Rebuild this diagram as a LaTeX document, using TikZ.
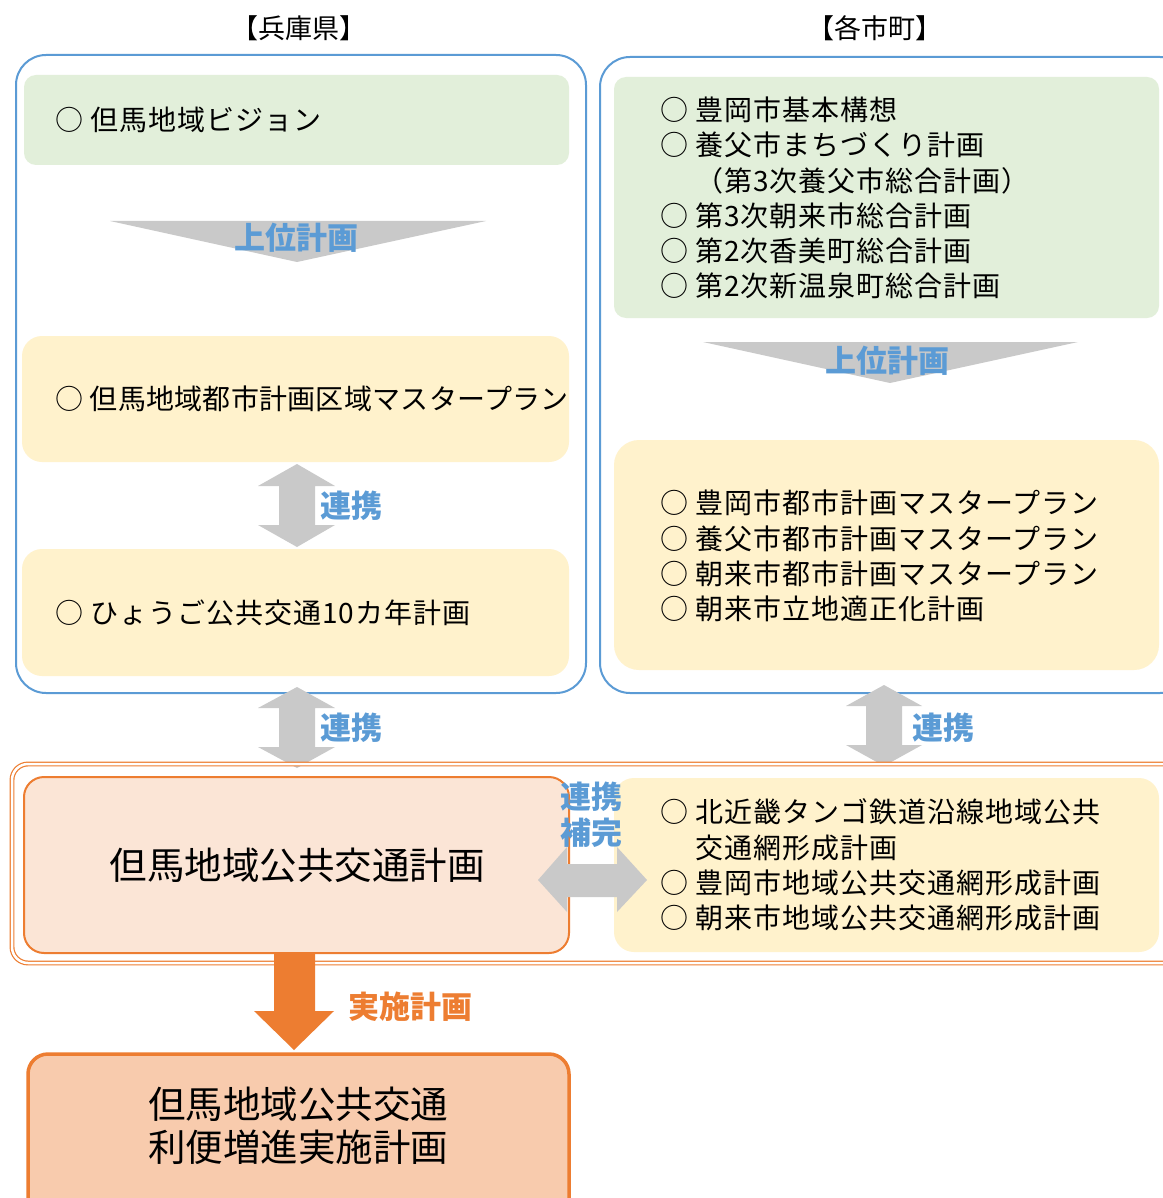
\documentclass[tikz,border=0pt]{standalone}
\usepackage{fontspec}
\setmainfont{Noto Sans CJK JP}
\newfontfamily\listfont[LetterSpace=3.5]{Noto Sans CJK JP}
\newfontfamily\listfontnarrow[LetterSpace=1]{Noto Sans CJK JP}
\usetikzlibrary{positioning}
\definecolor{cblue}{HTML}{5B9BD5}
\definecolor{cgreen}{HTML}{E2EFDA}
\definecolor{cyellow}{HTML}{FFF2CC}
\definecolor{cpink}{HTML}{FBE5D6}
\definecolor{corange}{HTML}{ED7D31}
\definecolor{cpeach}{HTML}{F8CBAD}
\definecolor{cgray}{RGB}{201,201,201}
\tikzset{
  outerbox/.style={draw=cblue,line width=2pt,rounded corners=30pt},
  greenbox/.style={fill=cgreen,rounded corners=12pt},
  yellowbox/.style={fill=cyellow,rounded corners=20pt},
  listtext/.style={anchor=west,inner sep=0pt,align=left,font=\listfont\fontsize{28}{35.3}\selectfont},
  bluelabel/.style={text=cblue,inner sep=0pt,font=\bfseries\fontsize{31}{36}\selectfont},
  orangelabel/.style={text=corange,inner sep=0pt,font=\bfseries\fontsize{31}{36}\selectfont},
  header/.style={inner sep=0pt,font=\fontsize{27}{30}\selectfont},
  blockarrow/.style={fill=cgray},
}
\newcommand{\ind}{\phantom{○ }}
\begin{document}
\begin{tikzpicture}[x=1pt,y=-1pt]
\useasboundingbox (0,0) rectangle (1162,1198);
\fill[white] (0,0) rectangle (1162,1198);

% headers
\node[header] (hdrL) at (299,28) {【兵庫県】};
\node[header] (hdrR) at (875,28) {【各市町】};

% outer blue boxes
\draw[outerbox] (16,55) rectangle (586,693);
\draw[outerbox] (600,57) rectangle (1190,693);

% left column
\fill[greenbox] (24,75) rectangle (569,165);
\node[listtext] (vision) at (55,120) {○ 但馬地域ビジョン};

\fill[blockarrow] (110,221) -- (486,221) -- (297,262) -- cycle;
\node[bluelabel] (upL) at (296,238) {上位計画};

\fill[yellowbox] (22,336) rectangle (569,462);
\node[listtext,font=\listfontnarrow\fontsize{28}{35.3}\selectfont] (tmp) at (55,399) {○ 但馬地域都市計画区域マスタープラン};

\fill[blockarrow] (297,464) -- (335,486) -- (315,486) -- (315,525) -- (335,525)
  -- (297,547) -- (258,525) -- (279,525) -- (279,486) -- (258,486) -- cycle;
\node[bluelabel] (linkL1) at (351,506) {連携};

\fill[yellowbox] (22,549) rectangle (569,676);
\node[listtext] (hyogo) at (55,613) {○ ひょうご公共交通10カ年計画};

% right column
\fill[greenbox] (614,77) rectangle (1159,318);
\node[listtext] (cityplans) at (660,198) {○ 豊岡市基本構想\\○ 養父市まちづくり計画\\\ind（第3次養父市総合計画）\\○ 第3次朝来市総合計画\\○ 第2次香美町総合計画\\○ 第2次新温泉町総合計画};

\fill[blockarrow] (703,342) -- (1078,342) -- (890,383) -- cycle;
\node[bluelabel] (upR) at (887,361) {上位計画};

\fill[yellowbox,rounded corners=25pt] (614,440) rectangle (1159,670);
\node[listtext] (citymp) at (660,556) {○ 豊岡市都市計画マスタープラン\\○ 養父市都市計画マスタープラン\\○ 朝来市都市計画マスタープラン\\○ 朝来市立地適正化計画};

% vertical link arrows to the lower band
\fill[blockarrow] (297,687) -- (335,708) -- (315,708) -- (315,747) -- (335,747)
  -- (297,768) -- (258,747) -- (279,747) -- (279,708) -- (258,708) -- cycle;
\node[bluelabel] (linkL2) at (351,728) {連携};

\fill[blockarrow] (884,685) -- (922,706) -- (902,706) -- (902,745) -- (922,745)
  -- (884,766) -- (846,745) -- (866,745) -- (866,706) -- (846,706) -- cycle;
\node[bluelabel] (linkR) at (943,728) {連携};

% double orange frame
\draw[corange,line width=1.2pt,double=white,double distance=2.5pt,rounded corners=16pt]
  (12,764) rectangle (1190,963);

% regional plan
\draw[corange,fill=cpink,line width=2pt,rounded corners=20pt] (24,777) rectangle (569,953);
\node[inner sep=0pt,font=\fontsize{37.5}{44}\selectfont] (regional) at (297,865) {但馬地域公共交通計画};

\fill[yellowbox] (614,778) rectangle (1159,952);
\node[listtext] (network) at (660,865) {○ 北近畿タンゴ鉄道沿線地域公共\\\ind 交通網形成計画\\○ 豊岡市地域公共交通網形成計画\\○ 朝来市地域公共交通網形成計画};

% horizontal double arrow
\fill[blockarrow] (538,880) -- (567,847) -- (567,864) -- (617,864) -- (617,847)
  -- (647,880) -- (617,912) -- (617,897) -- (567,897) -- (567,912) -- cycle;
\node[bluelabel,align=center] (linkC) at (591,815) {連携\\補完};

% down arrow
\fill[corange] (274,953) -- (315,953) -- (315,1011) -- (334,1011) -- (294,1050)
  -- (254,1011) -- (274,1011) -- cycle;
\node[orangelabel] (impl) at (410,1007) {実施計画};

% bottom box
\draw[corange,fill=cpeach,line width=3.5pt,rounded corners=20pt] (28,1054) rectangle (569,1230);
\node[inner sep=0pt,align=center,font=\fontsize{37.5}{43}\selectfont] (implplan) at (298,1126) {但馬地域公共交通\\利便増進実施計画};
\end{tikzpicture}
\end{document}
